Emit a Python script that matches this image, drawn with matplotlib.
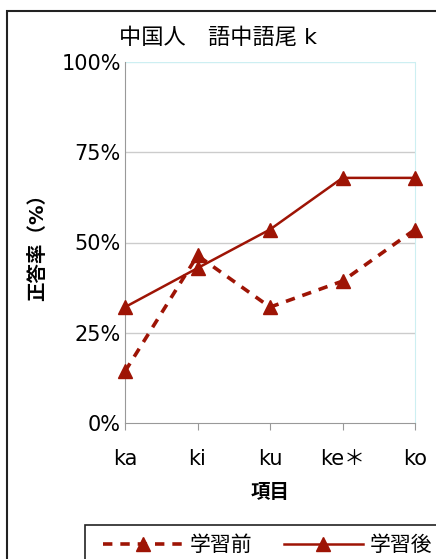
import matplotlib
matplotlib.use("Agg")
import matplotlib.pyplot as plt
from matplotlib.patches import Rectangle

plt.rcParams['font.family'] = ['DejaVu Sans', 'Noto Sans CJK JP']

categories = ['ka', 'ki', 'ku', 'ke＊', 'ko']
before = [14.3, 46.4, 32.1, 39.3, 53.6]   # 学習前
after = [32.1, 42.9, 53.6, 67.9, 67.9]    # 学習後
yticks = [0, 25, 50, 75, 100]
ytick_labels = ['0%', '25%', '50%', '75%', '100%']

W, H = 436, 559
fig = plt.figure(figsize=(W / 100, H / 100), dpi=100)
ax = fig.add_axes([125 / W, 1 - 423 / H, 290 / W, 361 / H])

color = '#9E1405'
x = list(range(len(categories)))
ax.plot(x, before, color=color, lw=2.6, ls=(0, (2.6, 2.2)), marker='^',
        ms=10, clip_on=False, zorder=3, label='学習前')
ax.plot(x, after, color=color, lw=1.8, ls='-', marker='^',
        ms=10, clip_on=False, zorder=3, label='学習後')

ax.set_xlim(0, len(categories) - 1)
ax.set_ylim(0, 100)
ax.set_xticks(x)
ax.set_xticklabels(categories, fontsize=15)
ax.set_yticks(yticks)
ax.set_yticklabels(ytick_labels, fontsize=15)
ax.tick_params(axis='y', length=0, pad=3)
ax.tick_params(axis='x', length=5, color='#999999', pad=14)

for v in yticks[1:-1]:
    ax.axhline(v, color='#cccccc', lw=1, zorder=1)
ax.axhline(100, color='#cdeff2', lw=1, zorder=1)

ax.spines['left'].set_color('#999999')
ax.spines['bottom'].set_color('#999999')
ax.spines['right'].set_color('#cdeff2')
ax.spines['top'].set_visible(False)

ax.set_xlabel('項目', fontsize=14, fontweight='bold', labelpad=10)
ax.set_ylabel('正答率（%）', fontsize=14, fontweight='bold', labelpad=10)

fig.text(218 / W, 1 - 37 / H, '中国人\u3000語中語尾 k', fontsize=16,
         ha='center', va='center')

# outer chart frame
fig.patches.append(Rectangle((7 / W, -0.1), 1.2, 1 - 11 / H + 0.1,
                             transform=fig.transFigure, fill=False,
                             ec='#222222', lw=1.5))

# legend box (runs past the right and bottom edges)
fig.patches.append(Rectangle((85 / W, -0.1), 1.0, 1 - 525 / H + 0.1,
                             transform=fig.transFigure, fill=False,
                             ec='#222222', lw=1.2))

leg = fig.legend(loc='upper left', bbox_to_anchor=(93 / W, 1 - 525 / H),
                 ncol=2, fontsize=15, frameon=False,
                 handlelength=3.8, handletextpad=0.35,
                 columnspacing=1.5, borderpad=0.5, borderaxespad=0)

fig.savefig('out.png', dpi=100)
